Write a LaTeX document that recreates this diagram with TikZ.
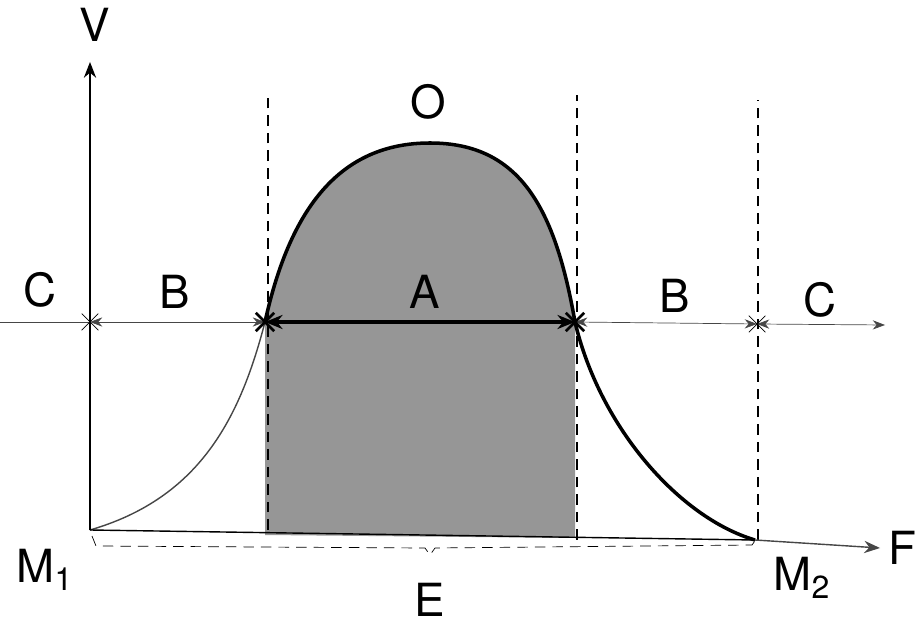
\documentclass[tikz,border=0pt]{standalone}
\usepackage{fontspec}
\setmainfont{TeX Gyre Heros}
\usetikzlibrary{arrows.meta,positioning,shapes.misc}
\definecolor{InkGray}{RGB}{70,70,70}
\definecolor{ShadeGray}{RGB}{150,150,150}
\tikzset{
  lbl/.style={font=\fontsize{26}{28}\selectfont,inner sep=1pt},
  axis/.style={-{Stealth[length=9pt,width=7pt]},thick},
  guide/.style={dashed,thick,dash pattern=on 6pt off 4pt},
  seg/.style={{Stealth[length=7pt]}-{Stealth[length=7pt]},thin,InkGray},
  mainseg/.style={{Stealth[length=10pt,width=8pt]}-{Stealth[length=10pt,width=8pt]},line width=2pt},
  crossmark/.style={cross out,draw,thin,minimum size=9pt,inner sep=0pt}
}
\begin{document}
\begin{tikzpicture}[x=0.02cm,y=0.02cm]
  \useasboundingbox (0,0) rectangle (918,628);
  % points
  \coordinate (M1) at (90,98);
  \coordinate (M2) at (755,88);
  \coordinate (Vtop) at (90,566);
  \coordinate (Fend) at (880,80);
  \coordinate (L) at (265,306);
  \coordinate (R) at (575,306);
  \coordinate (lineL) at (0,306);
  \coordinate (lineR) at (885,303);
  \coordinate (X1) at (90,306);
  \coordinate (X4) at (757,304);
  % shaded area
  \fill[ShadeGray] (265,93) -- (L) .. controls (290,420) and (340,485) .. (430,485)
    .. controls (520,485) and (555,420) .. (R) -- (575,90) -- cycle;
  % curve
  \draw[InkGray,thick] (M1) .. controls (200,130) and (240,210) .. (L);
  \draw[line width=2pt] (L) .. controls (290,420) and (340,485) .. (430,485)
    .. controls (520,485) and (555,420) .. (R);
  \draw[line width=2pt] (R) .. controls (600,200) and (680,110) .. (M2);
  % dashed guides
  \draw[guide] (268,98) -- (268,533);
  \draw[guide] (577,88) -- (577,533);
  \draw[guide] (758,88) -- (758,528);
  % axes
  \draw[axis] (M1) -- (Vtop);
  \draw[thick] (M1) -- (M2);
  \draw[axis,InkGray] (M2) -- (Fend);
  % E brace
  \draw[guide,thin] (92,92) -- (96,82) -- (425,80) -- (430,73) -- (435,80) -- (752,83) -- (757,90);
  % segments
  \draw[InkGray,thin] (lineL) -- (X1);
  \draw[seg] (X1) -- (L);
  \draw[mainseg] (L) -- (R);
  \draw[seg] (R) -- (X4);
  \draw[seg] (X4) -- (lineR);
  \node[crossmark] (c1) at (X1) {};
  \node[crossmark,line width=1.5pt] (c2) at (L) {};
  \node[crossmark,line width=1.5pt] (c3) at (R) {};
  \node[crossmark] (c4) at (X4) {};
  % labels
  \node[lbl] (lV) at (95,603) {V};
  \node[lbl] (lO) at (428,526) {O};
  \node[lbl] (lC1) at (40,338) {C};
  \node[lbl] (lB1) at (175,336) {B};
  \node[lbl] (lA) at (425,336) {A};
  \node[lbl] (lB2) at (675,332) {B};
  \node[lbl] (lC2) at (820,328) {C};
  \node[lbl] (lM1) at (45,58) {M\textsubscript{1}};
  \node[lbl] (lM2) at (802,50) {M\textsubscript{2}};
  \node[lbl] (lE) at (430,28) {E};
  \node[lbl,anchor=west] (lF) at (886,80) {F};
\end{tikzpicture}
\end{document}
